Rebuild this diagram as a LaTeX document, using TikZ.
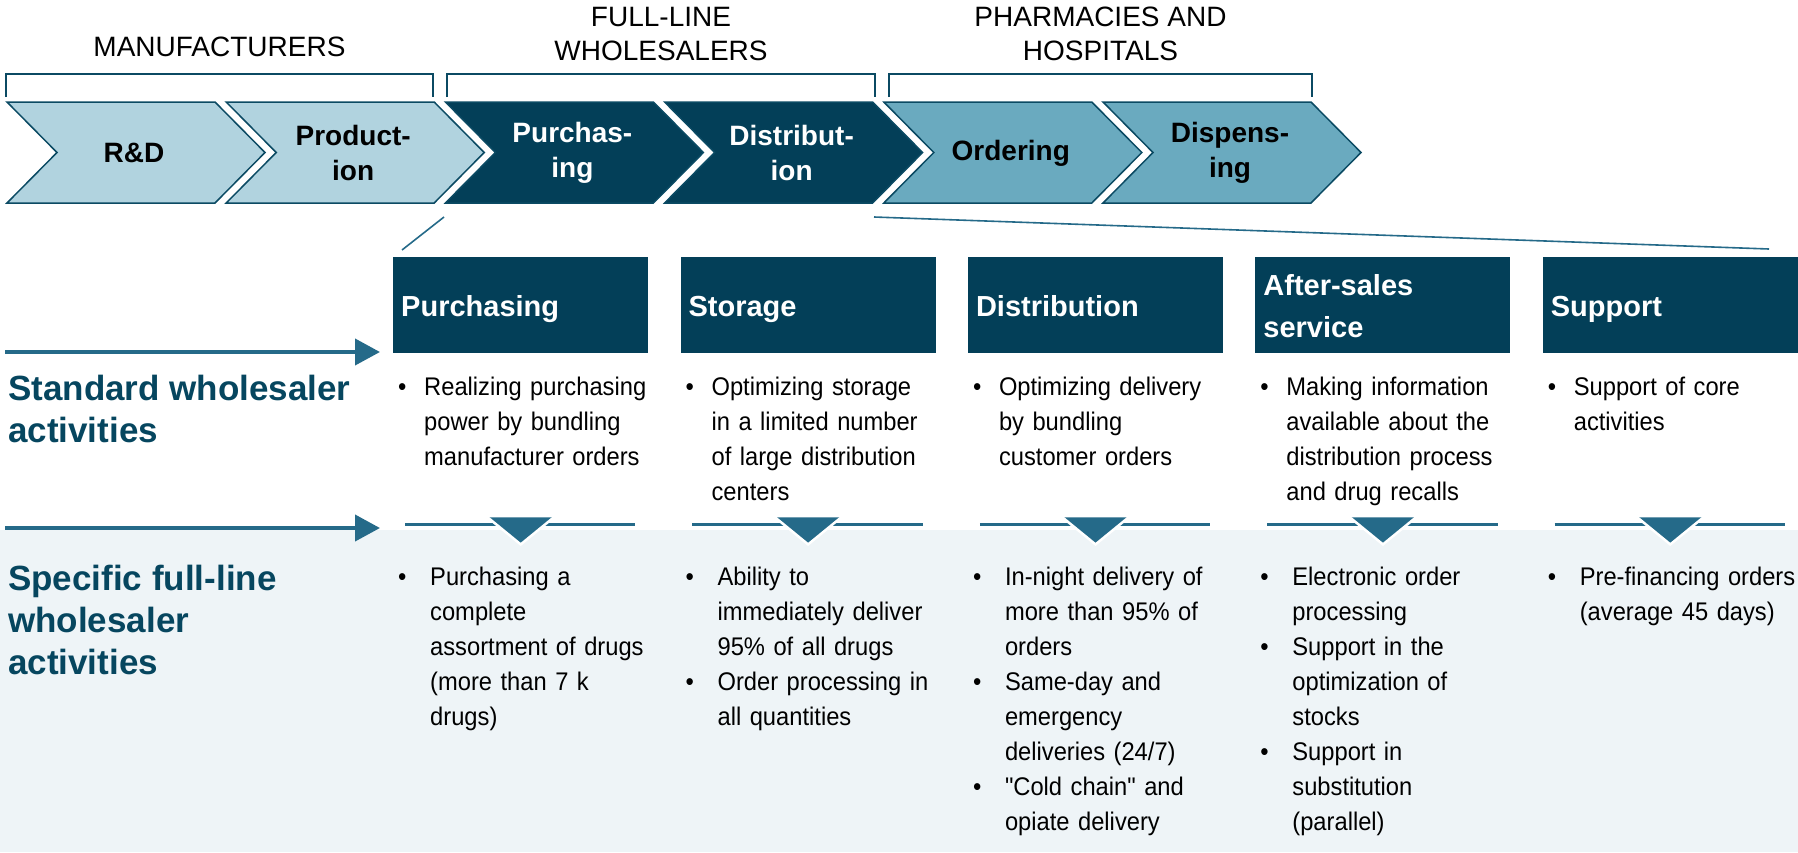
\documentclass[tikz,border=0pt]{standalone}
\usepackage{fontspec}
\setmainfont{Liberation Sans}
\newfontfamily\itemfamily[FakeStretch=0.93]{Liberation Sans}
\usetikzlibrary{arrows.meta, positioning, calc}

\definecolor{navy}{HTML}{033F58}
\definecolor{chevlight}{HTML}{B1D3DF}
\definecolor{chevmid}{HTML}{6AAABF}
\definecolor{chevline}{HTML}{0B4A63}
\definecolor{accent}{HTML}{256A89}
\definecolor{bandbg}{HTML}{EEF4F7}
\definecolor{sidetext}{HTML}{06465F}

% one bullet item with hanging indent
\newlength{\bulletgap}
\newcommand{\itm}[1]{\hangindent=\bulletgap\hangafter=1\noindent\makebox[\bulletgap][l]{\textbullet}{\let\\\newline#1}\par}

\begin{document}
\begin{tikzpicture}[x=1pt, y=-1pt,
    chev/.style={font=\fontsize{28}{35}\selectfont\bfseries, align=center, inner sep=0pt},
    group/.style={font=\fontsize{28}{34}\selectfont, align=center, inner sep=0pt},
    bracket/.style={draw=chevline, line width=2.5pt},
    hdr/.style={rectangle, fill=navy, text=white, minimum width=255pt, minimum height=96pt, text width=239pt, inner xsep=8pt, inner ysep=0pt, align=left, font=\fontsize{29}{42}\selectfont\bfseries,
        execute at begin node={\rule[-8pt]{0pt}{38pt}}, execute at end node={\rule[-8pt]{0pt}{8pt}}},
    stditems/.style={anchor=base west, inner sep=0pt, text width=290pt, align=left, font=\itemfamily\fontsize{25.5}{35}\selectfont, execute at begin node={\setlength{\bulletgap}{26pt}}},
    fulitems/.style={stditems, execute at begin node={\setlength{\bulletgap}{32pt}}},
    side/.style={anchor=base west, inner sep=0pt, align=left, text=sidetext, font=\fontsize{35}{42}\selectfont\bfseries},
    zoomline/.style={draw=accent, line width=1.6pt},
    divider/.style={draw=accent, line width=3.5pt},
    feed/.style={draw=accent, line width=4pt, -{Triangle[length=25pt, width=26pt]}}
]
\useasboundingbox (0,0) rectangle (1798,852);

% light band behind the second row
\fill[bandbg] (0,530) rectangle (1798,852);

% Grupos de la cadena
\node[group] (g-manu) at (219.5,47) {MANUFACTURERS};
\node[group] (g-whole) at (661,34) {FULL-LINE\\WHOLESALERS};
\node[group] (g-pharm) at (1100.5,34) {PHARMACIES AND\\HOSPITALS};
\draw[bracket] (6,97) |- (433,74) -- (433,97);
\draw[bracket] (447,97) |- (875,74) -- (875,97);
\draw[bracket] (889,97) |- (1312,74) -- (1312,97);

% Cadena de valor
\foreach \i/\nm/\lbl/\fc/\tc in {0/rd/{R\&D}/chevlight/black, 1/prod/{Product-\\ion}/chevlight/black,
    2/purch/{Purchas-\\ing}/navy/white, 3/dist/{Distribut-\\ion}/navy/white,
    4/order/{Ordering}/chevmid/black, 5/disp/{Dispens-\\ing}/chevmid/black} {
  \pgfmathsetmacro{\L}{7+219.2*\i}
  \filldraw[fill=\fc, draw=chevline, line width=1.5pt] (\L,102) -- ++(208,0) -- ++(50,50.5) -- ++(-50,50.5) -- ++(-208,0) -- ++(50,-50.5) -- cycle;
  \node[chev, text=\tc] (c-\nm) at (\L+127,153) {\lbl};
}

% Actividades
\node[hdr, anchor=north west] (h-purch) at (393,257) {Purchasing};
\node[hdr, right=32pt of h-purch] (h-stor) {Storage};
\node[hdr, right=32pt of h-stor] (h-dist) {Distribution};
\node[hdr, right=32pt of h-dist] (h-after) {After-sales\\service};
\node[hdr, right=32pt of h-after] (h-supp) {Support};

% zoom lines from the wholesaler steps
\coordinate (zoomL) at (444,217);
\coordinate (zoomR) at (874,217);
\draw[zoomline] (zoomL) -- ($(h-purch.north west)+(9,-7)$);
\draw[zoomline] (zoomR) -- ($(h-supp.north east)+(-29,-8)$);

% Standard
\node[stditems] (s-purch) at ($(h-purch.south west)+(5,42)$) {\itm{Realizing purchasing\\power by bundling\\manufacturer orders}};
\node[stditems] (s-stor) at ($(h-stor.south west)+(5,42)$) {\itm{Optimizing storage\\in a limited number\\of large distribution\\centers}};
\node[stditems] (s-dist) at ($(h-dist.south west)+(5,42)$) {\itm{Optimizing delivery\\by bundling\\customer orders}};
\node[stditems] (s-after) at ($(h-after.south west)+(5,42)$) {\itm{Making information\\available about the\\distribution process\\and drug recalls}};
\node[stditems] (s-supp) at ($(h-supp.south west)+(5,42)$) {\itm{Support of core\\activities}};

% divider with triangle under each column
\foreach \b in {h-purch,h-stor,h-dist,h-after,h-supp} {
  \draw[divider] ($(\b.south west)+(12,171)$) -- ($(\b.south east)+(-13,171)$);
  \fill[accent] ($(\b.south)+(-32,164)$) -- ++(64,0) -- ($(\b.south)+(0,191)$) -- cycle;
  \draw[white, line width=2.5pt] ($(\b.south)+(-33,164)$) -- ($(\b.south)+(0,191)$) -- ($(\b.south)+(33,164)$);
}

% Full-line
\node[fulitems] (f-purch) at ($(h-purch.south west)+(5,232)$) {\itm{Purchasing a\\complete\\assortment of drugs\\(more than 7 k\\drugs)}};
\node[fulitems] (f-stor) at ($(h-stor.south west)+(5,232)$) {\itm{Ability to\\immediately deliver\\95\% of all drugs}\itm{Order processing in\\all quantities}};
\node[fulitems] (f-dist) at ($(h-dist.south west)+(5,232)$) {\itm{In-night delivery of\\more than 95\% of\\orders}\itm{Same-day and\\emergency\\deliveries (24/7)}\itm{"Cold chain" and\\opiate delivery}};
\node[fulitems] (f-after) at ($(h-after.south west)+(5,232)$) {\itm{Electronic order\\processing}\itm{Support in the\\optimization of\\stocks}\itm{Support in\\substitution\\(parallel)}};
\node[fulitems] (f-supp) at ($(h-supp.south west)+(5,232)$) {\itm{Pre-financing orders\\(average 45 days)}};

% Filas
\coordinate (std-from) at (5,352);
\coordinate (std-to) at (380,352);
\coordinate (spec-from) at (5,528);
\coordinate (spec-to) at (380,528);
\draw[feed] (std-from) -- (std-to);
\draw[feed] (spec-from) -- (spec-to);
\node[side] (lbl-std) at (8,442) {Standard wholesaler\\activities};
\node[side] (lbl-spec) at (8,674) {Specific full-line\\wholesaler\\activities};

\end{tikzpicture}
\end{document}
